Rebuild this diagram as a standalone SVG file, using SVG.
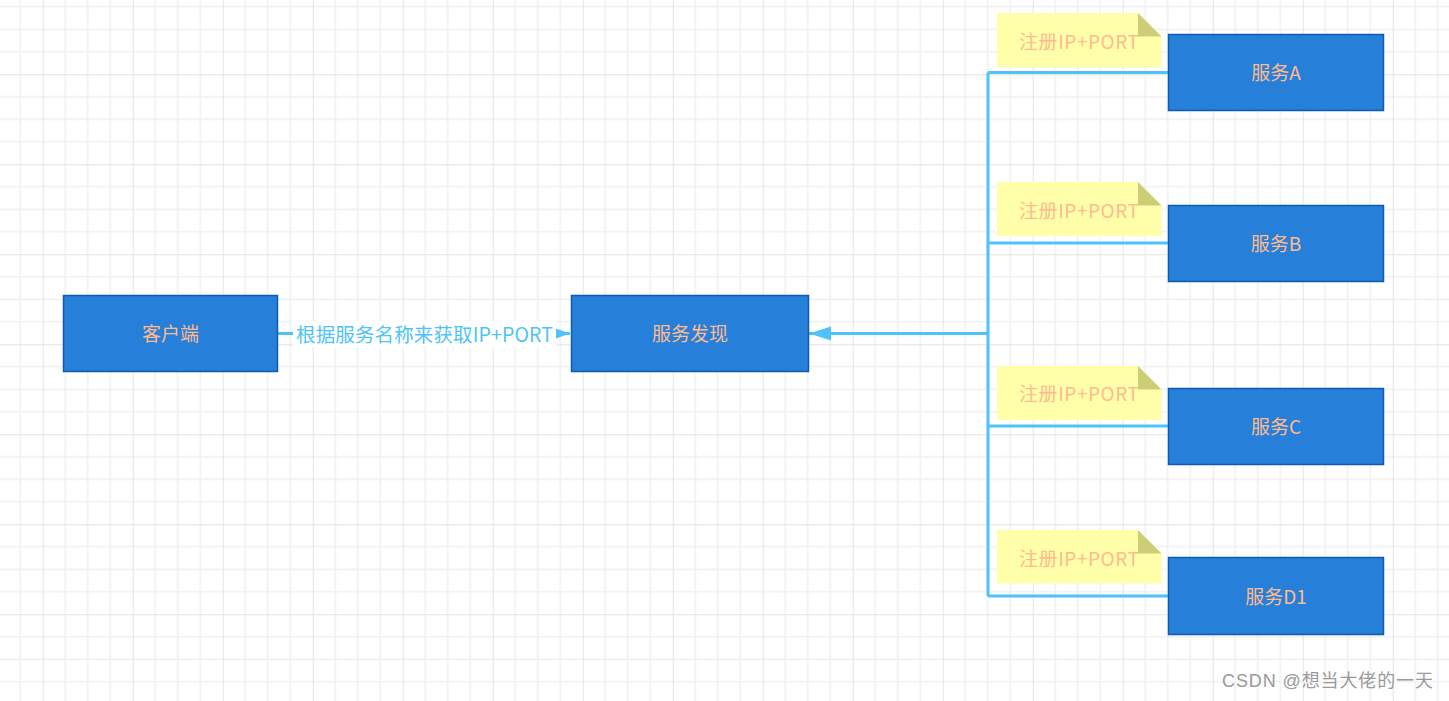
<svg xmlns="http://www.w3.org/2000/svg" width="1449" height="701" viewBox="0 0 1449 701">
<defs>
<pattern id="grid" width="90" height="90" patternUnits="userSpaceOnUse" patternTransform="translate(42.7 74.3)">
<path d="M22.5 0V90M45 0V90M67.5 0V90M0 22.5H90M0 45H90M0 67.5H90" stroke="#f0f0f0" stroke-width="1.5" fill="none"/>
<path d="M0 0V90M0 0H90" stroke="#e2e2e2" stroke-width="1.8" fill="none"/>
</pattern>
<marker id="big" markerUnits="userSpaceOnUse" markerWidth="24" markerHeight="16" refX="22" refY="7" orient="auto">
<path d="M0 0L22 7L0 14Z" fill="#4fc3f7"/>
</marker>
<marker id="small" markerUnits="userSpaceOnUse" markerWidth="16" markerHeight="12" refX="14" refY="5" orient="auto">
<path d="M0 0L14 5L0 10Z" fill="#4fc3f7"/>
</marker>
<style>
.node rect{fill:#267fd8;stroke:#0f5bb0;stroke-width:1.5}
.node text{font-family:"Microsoft YaHei","Noto Sans CJK SC",sans-serif;font-size:19px;fill:#ffbb8e;text-anchor:middle;dominant-baseline:central}
.note path.body{fill:#ffffaa}
.note path.fold{fill:#cdcd77}
.note text{font-family:"Microsoft YaHei","Noto Sans CJK SC",sans-serif;font-size:19px;fill:#ffbb8e;text-anchor:middle;dominant-baseline:central}
.conn{stroke:#4fc3f7;stroke-width:3;fill:none}
.lbl{font-family:"Microsoft YaHei","Noto Sans CJK SC",sans-serif;font-size:19.5px;fill:#4fc3f7;text-anchor:middle;dominant-baseline:central}
</style>
</defs>
<rect width="1449" height="701" fill="#ffffff"/>
<rect width="1449" height="701" fill="url(#grid)"/>

<g id="notes">
<g id="noteA" class="note"><path class="body" d="M997 13H1138L1161.5 36.5V67H997Z"/><path class="fold" d="M1138 13L1161.5 36.5H1138Z"/><text x="1079" y="40" textLength="120">注册IP+PORT</text></g>
<g id="noteB" class="note"><path class="body" d="M997 182H1138L1161.5 205.5V236H997Z"/><path class="fold" d="M1138 182L1161.5 205.5H1138Z"/><text x="1079" y="209" textLength="120">注册IP+PORT</text></g>
<g id="noteC" class="note"><path class="body" d="M997 366H1138L1161.5 389.5V420H997Z"/><path class="fold" d="M1138 366L1161.5 389.5H1138Z"/><text x="1079" y="392" textLength="120">注册IP+PORT</text></g>
<g id="noteD" class="note"><path class="body" d="M997 530H1138L1161.5 553.5V583.5H997Z"/><path class="fold" d="M1138 530L1161.5 553.5H1138Z"/><text x="1079" y="557" textLength="120">注册IP+PORT</text></g>
</g>

<g id="connectors">
<path class="conn" d="M988 72.5V596"/>
<path class="conn" d="M1168 72.5H988"/>
<path class="conn" d="M1168 243H988"/>
<path class="conn" d="M1168 426H988"/>
<path class="conn" d="M1168 596H988"/>
<path class="conn" d="M988 333.5H809" marker-end="url(#big)"/>
<path class="conn" d="M278 333.5H570" marker-end="url(#small)"/>
<rect x="293" y="321" width="263" height="26" fill="#ffffff"/>
<text class="lbl" x="424.5" y="333.5" textLength="257">根据服务名称来获取IP+PORT</text>
</g>

<g id="client" class="node"><rect x="63.5" y="295.5" width="214" height="76"/><text x="170.5" y="332.5">客户端</text></g>
<g id="discovery" class="node"><rect x="571.5" y="295.5" width="237" height="76"/><text x="690" y="332.5">服务发现</text></g>
<g id="svcA" class="node"><rect x="1168.5" y="34.5" width="215" height="76"/><text x="1276" y="71.5">服务A</text></g>
<g id="svcB" class="node"><rect x="1168.5" y="205.5" width="215" height="76"/><text x="1276" y="242.5">服务B</text></g>
<g id="svcC" class="node"><rect x="1168.5" y="388.5" width="215" height="76"/><text x="1276" y="425.5">服务C</text></g>
<g id="svcD1" class="node"><rect x="1168.5" y="557.5" width="215" height="77"/><text x="1276" y="595">服务D1</text></g>

<text x="1222" y="681" textLength="211" dominant-baseline="central" font-family="Liberation Sans, Noto Sans CJK SC, sans-serif" font-size="18" fill="#9a9a9a">CSDN @想当大佬的一天</text>
</svg>
